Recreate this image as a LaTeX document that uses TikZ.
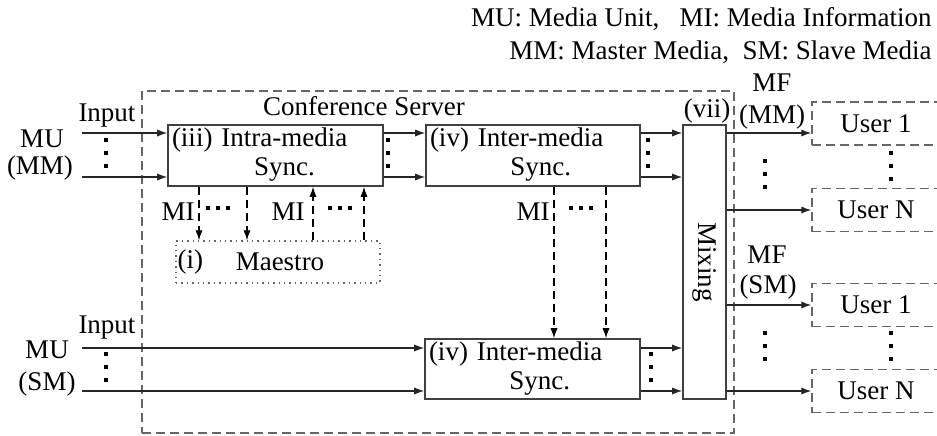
\documentclass[tikz,border=0pt]{standalone}
\usepackage{fontspec}
\setmainfont{Liberation Serif}
\usepackage{graphicx}
\usetikzlibrary{calc,arrows.meta}

\begin{document}
\begin{tikzpicture}[x=0.5pt,y=-0.5pt,>={Latex[length=5pt,width=3.6pt]},
    font=\fontsize{13.5}{14.5}\selectfont,
    box/.style={draw=black!75,line width=0.8pt,inner xsep=2pt,inner ysep=0pt,align=left},
    ubox/.style={draw=black!60,dash pattern=on 4.5pt off 2.5pt,line width=0.7pt,
      minimum width=64pt,minimum height=21.5pt,inner sep=0pt},
    flow/.style={->,draw=black!85,line width=0.6pt},
    info/.style={->,dash pattern=on 4pt off 2.5pt,line width=0.6pt}]
  \useasboundingbox (0,0) rectangle (937,435);

  \node[draw=black!60,dash pattern=on 4.5pt off 2.5pt,line width=0.7pt,
    minimum width=296pt,minimum height=171pt] (Srv) at (438,262) {};
  \node (SrvLbl) at (364,106) {Conference Server};

  \node[box,text width=103.5pt,minimum height=30.5pt] (Intra) at (275.5,155.5)
    {(iii) \begin{tabular}[t]{@{}c@{}}Intra-media\\Sync.\end{tabular}};
  \node[box,text width=103pt,minimum height=30.5pt] (InterA) at (533,155.5)
    {(iv) \begin{tabular}[t]{@{}c@{}}Inter-media\\Sync.\end{tabular}};
  \node[box,text width=103.5pt,minimum height=30pt] (InterB) at (532.5,369)
    {(iv) \begin{tabular}[t]{@{}c@{}}Inter-media\\Sync.\end{tabular}};
  \node[box,inner sep=0pt,minimum width=21.5pt,minimum height=137pt] (Mix) at (704.5,262)
    {\rotatebox{-90}{Mixing}};
  \node (vii) at (707,111) {(vii)};
  \node[draw=black!60,dotted,line width=0.7pt,minimum width=102pt,minimum height=21pt,
    inner sep=0pt] (Maestro) at (278,262) {\hspace{2pt}Maestro};
  \node[anchor=west,inner sep=1pt] (MaeTag) at (Maestro.west) {(i)};

  \node[ubox] (U1m) at (876,123.5) {User 1};
  \node[ubox] (UNm) at (876,210) {User N};
  \node[ubox] (U1s) at (876,305) {User 1};
  \node[ubox] (UNs) at (876,391) {User N};

  % inputs
  \node (inLblA) at (107,116) {Input};
  \node (muA) at (42,139) {MU};
  \node (mmA) at (40,168) {(MM)};
  \node (inLblB) at (107,328) {Input};
  \node (muB) at (47,350) {MU};
  \node (smB) at (47,384) {(SM)};
  \coordinate (inA1) at (82,133);
  \coordinate (inA2) at (82,177);
  \coordinate (inB1) at (82,348);
  \coordinate (inB2) at (82,391);

  \draw[flow] (inA1) -- (Intra.west |- inA1);
  \draw[flow] (inA2) -- (Intra.west |- inA2);
  \draw[flow] (Intra.east |- inA1) -- (InterA.west |- inA1);
  \draw[flow] (Intra.east |- inA2) -- (InterA.west |- inA2);
  \draw[flow] (InterA.east |- inA1) -- (Mix.west |- inA1);
  \draw[flow] (InterA.east |- inA2) -- (Mix.west |- inA2);
  \draw[flow] (inB1) -- (InterB.west |- inB1);
  \draw[flow] (inB2) -- (InterB.west |- inB2);
  \draw[flow] (InterB.east |- inB1) -- (Mix.west |- inB1);
  \draw[flow] (InterB.east |- inB2) -- (Mix.west |- inB2);

  % outputs
  \node (mfA) at (772,83) {MF};
  \node (mmF) at (772,117) {(MM)};
  \node (mfB) at (767,255) {MF};
  \node (smF) at (768,287) {(SM)};
  \draw[flow] (Mix.east |- inA1) -- (U1m.west |- inA1);
  \draw[flow] (Mix.east |- UNm.west) -- (UNm.west);
  \draw[flow] (Mix.east |- U1s.west) -- (U1s.west);
  \draw[flow] (Mix.east |- UNs.west) -- (UNs.west);

  % media information
  \coordinate (mi1) at (199,0);
  \coordinate (mi2) at (247,0);
  \coordinate (mi3) at (313,0);
  \coordinate (mi4) at (364,0);
  \coordinate (mi5) at (554,0);
  \coordinate (mi6) at (606,0);
  \draw[info] (Intra.south -| mi1) -- (Maestro.north -| mi1);
  \draw[info] (Intra.south -| mi2) -- (Maestro.north -| mi2);
  \draw[info] (Maestro.north -| mi3) -- (Intra.south -| mi3);
  \draw[info] (Maestro.north -| mi4) -- (Intra.south -| mi4);
  \draw[info] (InterA.south -| mi5) -- (InterB.north -| mi5);
  \draw[info] (InterA.south -| mi6) -- (InterB.north -| mi6);
  \node (miA) at (178,212) {MI};
  \node (miB) at (288,212) {MI};
  \node (miC) at (533,212) {MI};

  % dots
  \foreach \x/\y in {106/153,388/153,648/153,106/367,651/367,765/174,891/166,765/346,891/346}
    \foreach \d in {-13,0,13}
      \fill (\x-1.75,\y+\d-1.75) rectangle ++(3.5,3.5);
  \foreach \x/\y in {218/208,340/208,581/208}
    \foreach \d in {-10,0,10}
      \fill (\x+\d-1.75,\y-1.75) rectangle ++(3.5,3.5);

  \node[anchor=east,inner sep=0pt] (key1) at (932,19) {MU: Media Unit,\ \ \ MI: Media Information};
  \node[anchor=east,inner sep=0pt] (key2) at (932,52) {MM: Master Media,\ \ SM: Slave Media};
\end{tikzpicture}
\end{document}
